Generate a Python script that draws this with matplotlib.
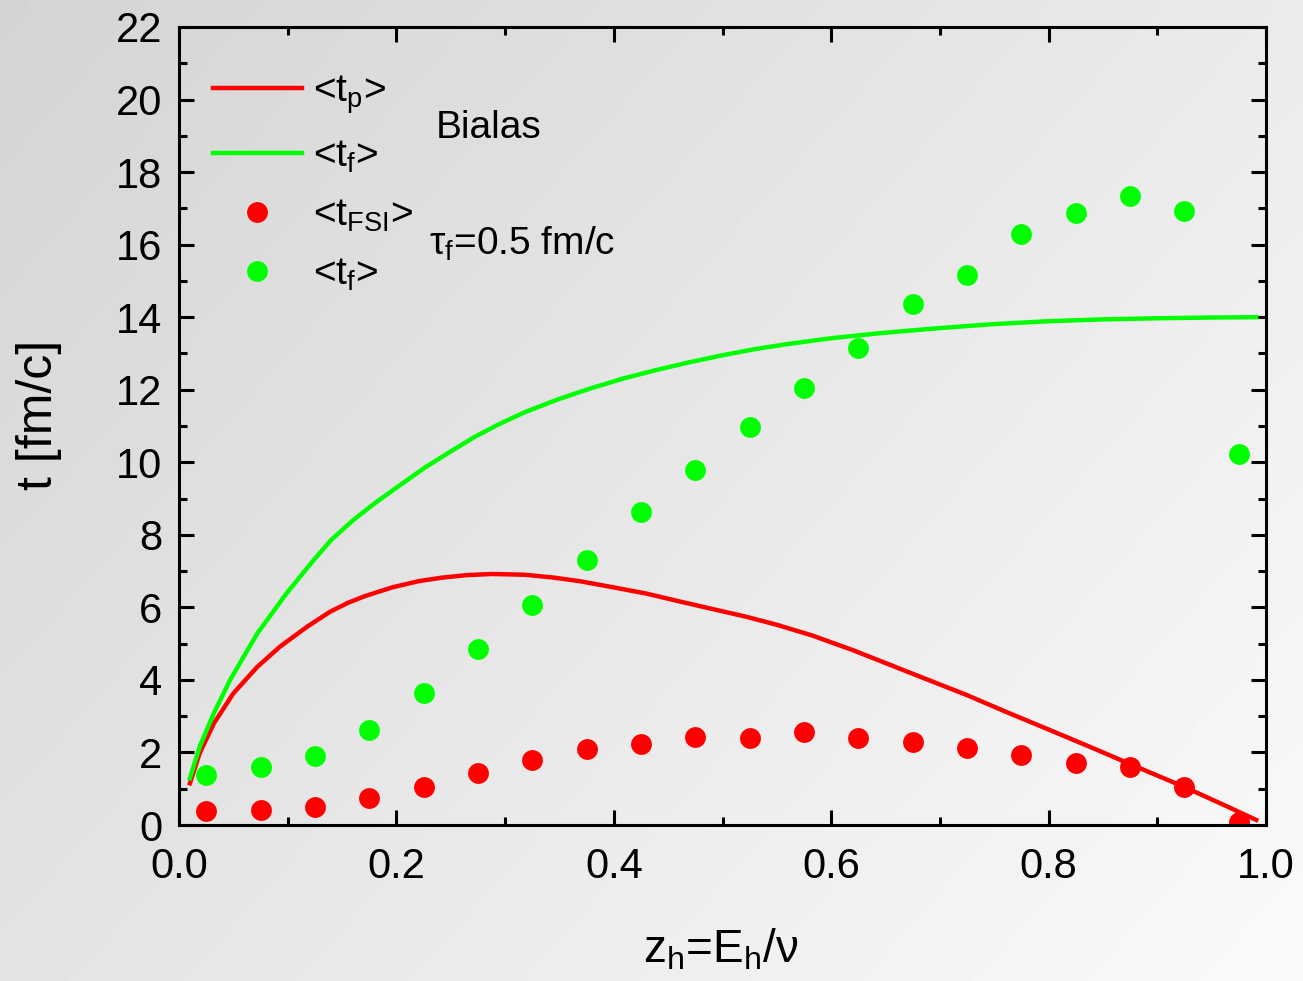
import numpy as np
import matplotlib
matplotlib.use("Agg")
import matplotlib.pyplot as plt
from matplotlib.ticker import MultipleLocator, FormatStrFormatter

plt.rcParams['font.family'] = ['Liberation Sans', 'DejaVu Sans']
plt.rcParams['mathtext.default'] = 'regular'

# Model curves (Bialas)
tp_x = [0.010, 0.019, 0.032, 0.050, 0.072, 0.093, 0.118, 0.139, 0.155, 0.170,
        0.196, 0.220, 0.242, 0.265, 0.288, 0.318, 0.345, 0.369, 0.400, 0.430,
        0.461, 0.490, 0.522, 0.550, 0.583, 0.620, 0.669, 0.725, 0.760, 0.801,
        0.840, 0.875, 0.924, 0.960, 0.991]
tp_y = [1.15, 1.98, 2.80, 3.63, 4.36, 4.92, 5.47, 5.88, 6.12, 6.30,
        6.55, 6.72, 6.82, 6.89, 6.92, 6.90, 6.82, 6.72, 6.55, 6.38,
        6.16, 5.96, 5.74, 5.52, 5.22, 4.82, 4.24, 3.58, 3.13, 2.62,
        2.13, 1.68, 1.06, 0.57, 0.14]

tf_x = [0.010, 0.019, 0.032, 0.047, 0.072, 0.099, 0.124, 0.140, 0.160, 0.180,
        0.200, 0.226, 0.250, 0.272, 0.295, 0.318, 0.350, 0.380, 0.410, 0.440,
        0.470, 0.500, 0.530, 0.560, 0.600, 0.645, 0.700, 0.750, 0.801, 0.850,
        0.900, 0.950, 0.991]
tf_y = [1.29, 2.16, 3.08, 4.00, 5.28, 6.39, 7.31, 7.86, 8.40, 8.87,
        9.30, 9.85, 10.30, 10.70, 11.06, 11.38, 11.75, 12.05, 12.32, 12.55,
        12.76, 12.95, 13.12, 13.26, 13.42, 13.56, 13.70, 13.81, 13.89, 13.94,
        13.97, 13.99, 14.00]

# Simulated points
z_bins = [0.025, 0.075, 0.125, 0.175, 0.225, 0.275, 0.325, 0.375, 0.425, 0.475,
          0.525, 0.575, 0.625, 0.675, 0.725, 0.775, 0.825, 0.875, 0.925, 0.975]
t_fsi = [0.39, 0.41, 0.50, 0.74, 1.05, 1.43, 1.79, 2.10, 2.23, 2.43,
         2.40, 2.56, 2.40, 2.29, 2.12, 1.93, 1.71, 1.60, 1.05, 0.08]
t_f_pts = [1.38, 1.60, 1.90, 2.62, 3.64, 4.85, 6.07, 7.31, 8.63, 9.79,
           10.97, 12.05, 13.15, 14.36, 15.16, 16.29, 16.87, 17.34, 16.93, 10.23]

RED = '#ff0000'
GREEN = '#00ff00'

fig = plt.figure(figsize=(13.03, 9.81), dpi=100)

# Gray gradient backdrop
bg = fig.add_axes([0, 0, 1, 1], zorder=-10)
gx, gy = np.meshgrid(np.linspace(0, 1, 400), np.linspace(0, 1, 300))
shade = 0.83 + 0.15 * (0.6 * gx + 0.4 * gy)
bg.imshow(shade, cmap='gray', vmin=0, vmax=1, aspect='auto',
          extent=[0, 1, 0, 1], origin='upper', interpolation='bilinear')
bg.set_axis_off()

ax = fig.add_axes([0.1374, 0.159, 0.8342, 0.8135])
ax.set_facecolor('none')

l1, = ax.plot(tp_x, tp_y, color=RED, lw=3.2, label='<t$_p$>',
              solid_joinstyle='round')
l2, = ax.plot(tf_x, tf_y, color=GREEN, lw=3.2, label='<t$_f$>',
              solid_joinstyle='round')
p1, = ax.plot(z_bins, t_fsi, 'o', color=RED, ms=15, mew=0, ls='none',
              label='<t$_{FSI}$>')
p2, = ax.plot(z_bins, t_f_pts, 'o', color=GREEN, ms=15, mew=0, ls='none',
              label='<t$_f$>')

ax.set_xlim(0, 1.0)
ax.set_ylim(0, 22)
ax.xaxis.set_major_locator(MultipleLocator(0.2))
ax.xaxis.set_minor_locator(MultipleLocator(0.1))
ax.yaxis.set_major_locator(MultipleLocator(2))
ax.yaxis.set_minor_locator(MultipleLocator(1))
ax.xaxis.set_major_formatter(FormatStrFormatter('%.1f'))

for s in ax.spines.values():
    s.set_linewidth(2.2)
ax.tick_params(which='both', direction='in', top=True, right=True,
               width=2.2, labelsize=30, pad=12)
ax.tick_params(axis='x', which='both', pad=16)
ax.tick_params(which='major', length=11)
ax.tick_params(which='minor', length=6)

ax.set_ylabel('t [fm/c]', fontsize=36)
ax.yaxis.set_label_coords(-0.108, 0.514)
ax.set_xlabel('z$_h$=E$_h$/ν', fontsize=33, va='baseline')
ax.xaxis.set_label_coords(0.4986, -0.1717)

leg = ax.legend(handles=[l1, l2, p1, p2], loc='upper left', frameon=False,
                fontsize=28, handlelength=2.3, handletextpad=0.28,
                labelspacing=0.59, borderaxespad=0.0,
                bbox_to_anchor=(0.0165, 0.962))

ax.text(0.236, 0.873, 'Bialas', transform=ax.transAxes, fontsize=28,
        va='center', ha='left')
ax.text(0.230, 0.728, r'$\tau_f$=0.5 fm/c', transform=ax.transAxes,
        fontsize=28, va='center', ha='left')

fig.savefig('out.png', dpi=100)
